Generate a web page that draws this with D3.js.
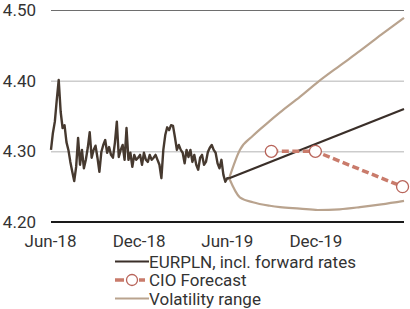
<!DOCTYPE html>
<html>
<head>
<meta charset="utf-8">
<script src="https://cdn.jsdelivr.net/npm/d3@7"></script>
<style>
body { margin: 0; background: #fff; }
svg text { font-family: Roboto, "Open Sans", sans-serif; fill: #333; }
</style>
</head>
<body>
<div id="chart"></div>
<script>
// EURPLN spot, forward path, CIO forecast and volatility range.

// spot series: one reading every 4 days from the start date
var spotStart = "2018-06-03";
var spotStepDays = 4;
var spotValues = [
    4.302, 4.326, 4.342, 4.373, 4.401, 4.356, 4.333, 4.337, 4.313, 4.302,
    4.285, 4.271, 4.258, 4.278, 4.319, 4.281, 4.302, 4.276, 4.288, 4.305,
    4.327, 4.291, 4.302, 4.308, 4.291, 4.271, 4.299, 4.309, 4.316, 4.298,
    4.306, 4.295, 4.291, 4.312, 4.342, 4.292, 4.302, 4.309, 4.288, 4.333,
    4.288, 4.298, 4.278, 4.295, 4.288, 4.291, 4.295, 4.281, 4.298, 4.288,
    4.285, 4.295, 4.288, 4.291, 4.295, 4.288, 4.281, 4.262, 4.302, 4.323,
    4.334, 4.330, 4.337, 4.336, 4.320, 4.302, 4.309, 4.302, 4.298, 4.283,
    4.302, 4.292, 4.302, 4.285, 4.295, 4.281, 4.274, 4.291, 4.295, 4.281,
    4.285, 4.299, 4.305, 4.309, 4.302, 4.298, 4.283, 4.276, 4.288, 4.267,
    4.257, 4.262, 4.262
];

var forwardDates = ["2019-06-06", "2020-06-01"];
var forwardValues = [4.262, 4.36];

var cioDates = ["2019-09-01", "2019-12-01", "2020-05-29"];
var cioValues = [4.30, 4.30, 4.25];

var volDates = ["2019-06-06", "2019-06-28", "2019-07-25", "2019-08-29", "2019-09-19",
    "2019-10-30", "2019-12-06", "2020-01-20", "2020-03-02", "2020-04-15", "2020-06-01"];
var volUpper = [4.262, 4.302, 4.322, 4.343, 4.355, 4.377, 4.398, 4.421, 4.442, 4.465, 4.489];
var volLower = [4.262, 4.235, 4.228, 4.223, 4.221, 4.219, 4.217, 4.218, 4.221, 4.225, 4.230];

var yTicks = [4.20, 4.30, 4.40, 4.50];
var xTicks = ["2018-06-01", "2018-12-01", "2019-06-01", "2019-12-01"];

var legendLabels = ["EURPLN, incl. forward rates", "CIO Forecast", "Volatility range"];

var W = 410, H = 309;
var margin = {left: 50, right: 6, top: 10, bottom: 87};
var fontSize = 17;

var colSpot = "#46392f";
var colFwd = "#3a2f29";
var colCio = "#c97b6b";
var colCioRing = "#b8645a";
var colVol = "#b9a38e";

var parse = d3.utcParse("%Y-%m-%d");

function pairs(dates, values){
    return dates.map(function(d, i){ return {date: parse(d), value: values[i]}; });
}

var spot = spotValues.map(function(v, i){
    return {date: d3.utcDay.offset(parse(spotStart), i * spotStepDays), value: v};
});

var svg = d3.select("#chart").append("svg")
    .attr("width", W)
    .attr("height", H);

var x = d3.scaleUtc()
    .domain([parse("2018-06-01"), parse("2020-06-01")])
    .range([margin.left, W - margin.right]);

var y = d3.scaleLinear()
    .domain([4.20, 4.50])
    .range([H - margin.bottom, margin.top]);

// gridlines
svg.append("g").selectAll("line")
    .data(yTicks.filter(function(d){ return d > 4.2; }))
    .enter().append("line")
    .attr("x1", x.range()[0] + 1)
    .attr("x2", x.range()[1])
    .attr("y1", function(d){ return y(d) + 0.5; })
    .attr("y2", function(d){ return y(d) + 0.5; })
    .attr("stroke", function(d){ return d == 4.5 ? "#6e6e6e" : "#b3b3b3"; })
    .attr("stroke-width", 1);

// y labels
var yAxis = svg.append("g")
    .attr("transform", "translate(" + (margin.left - 14) + ",0)")
    .call(d3.axisLeft(y).tickValues(yTicks).tickFormat(d3.format(".2f")).tickSize(0).tickPadding(0));
yAxis.select(".domain").remove();
yAxis.selectAll("text").attr("font-size", fontSize).attr("font-family", null).attr("fill", "#333");

// x labels
var xAxis = svg.append("g")
    .attr("transform", "translate(0," + (H - margin.bottom) + ")")
    .call(d3.axisBottom(x).tickValues(xTicks.map(parse)).tickFormat(d3.utcFormat("%b-%y")).tickSize(0).tickPadding(13));
xAxis.select(".domain").remove();
xAxis.selectAll("text").attr("font-size", fontSize).attr("font-family", null).attr("fill", "#333");

var line = d3.line()
    .x(function(d){ return x(d.date); })
    .y(function(d){ return y(d.value); });

var curve = d3.line()
    .curve(d3.curveMonotoneX)
    .x(function(d){ return x(d.date); })
    .y(function(d){ return y(d.value); });

// volatility range
[volUpper, volLower].forEach(function(vals){
    svg.append("path")
        .datum(pairs(volDates, vals))
        .attr("d", curve)
        .attr("fill", "none")
        .attr("stroke", colVol)
        .attr("stroke-width", 2.2);
});

// forward path
svg.append("path")
    .datum(pairs(forwardDates, forwardValues))
    .attr("d", line)
    .attr("fill", "none")
    .attr("stroke", colFwd)
    .attr("stroke-width", 2.2);

// spot
svg.append("path")
    .datum(spot)
    .attr("d", line)
    .attr("fill", "none")
    .attr("stroke", colSpot)
    .attr("stroke-width", 2.4)
    .attr("stroke-linejoin", "round");

// CIO forecast
var cio = pairs(cioDates, cioValues);
svg.append("path")
    .datum(cio)
    .attr("d", line)
    .attr("fill", "none")
    .attr("stroke", colCio)
    .attr("stroke-width", 3.5)
    .attr("stroke-dasharray", "7,3.5");
svg.append("g").selectAll("circle")
    .data(cio)
    .enter().append("circle")
    .attr("cx", function(d){ return x(d.date); })
    .attr("cy", function(d){ return y(d.value); })
    .attr("r", 6)
    .attr("fill", "#fff")
    .attr("stroke", colCioRing)
    .attr("stroke-width", 1.3);

// baseline
svg.append("line")
    .attr("x1", x.range()[0] + 1)
    .attr("x2", x.range()[1])
    .attr("y1", y(4.2))
    .attr("y2", y(4.2))
    .attr("stroke", "#1a1a1a")
    .attr("stroke-width", 2);

// legend
var lg = svg.append("g").attr("transform", "translate(115,261.5)");
legendLabels.forEach(function(label, i){
    var row = lg.append("g").attr("transform", "translate(0," + (i * 18.5) + ")");
    if (i == 1){
        row.append("line")
            .attr("x1", 0).attr("x2", 30).attr("y1", 0).attr("y2", 0)
            .attr("stroke", colCio).attr("stroke-width", 3.5)
            .attr("stroke-dasharray", "9,3");
        row.append("circle")
            .attr("cx", 17).attr("cy", 0).attr("r", 5.5)
            .attr("fill", "#fff").attr("stroke", colCioRing).attr("stroke-width", 1.3);
    } else {
        row.append("line")
            .attr("x1", 0).attr("x2", 34).attr("y1", 0).attr("y2", 0)
            .attr("stroke", i == 0 ? colFwd : colVol)
            .attr("stroke-width", 2.2);
    }
    row.append("text")
        .attr("x", 34)
        .attr("y", 0)
        .attr("dy", "0.36em")
        .attr("font-size", fontSize)
        .text(label);
});
</script>
</body>
</html>
